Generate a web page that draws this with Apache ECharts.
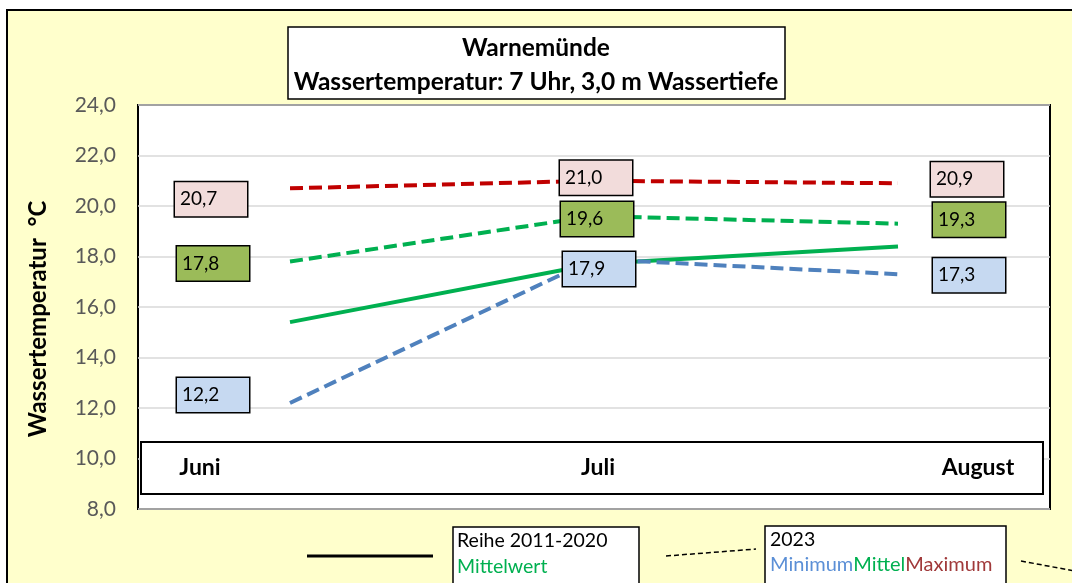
<!DOCTYPE html>
<html>
<head>
<meta charset="utf-8">
<script src="https://cdn.jsdelivr.net/npm/echarts@6/dist/echarts.min.js"></script>
<style>
  html, body { margin: 0; padding: 0; background: #fff; }
  #chart { width: 1072px; height: 583px; }
</style>
</head>
<body>
<div id="chart"></div>
<script>
// Wassertemperatur Warnemünde, 7 Uhr, 3,0 m Wassertiefe
const months = ['Juni', 'Juli', 'August'];
const yTicks = [8, 10, 12, 14, 16, 18, 20, 22, 24];

// Mittelwert der Reihe 2011-2020
const mean2011to2020 = [15.4, 17.7, 18.4];
// Sommer 2023
const min2023 = [12.2, 17.9, 17.3];
const mean2023 = [17.8, 19.6, 19.3];
const max2023 = [20.7, 21.0, 20.9];

const FONT = 'Lato, "Open Sans", sans-serif';
const fmt = v => v.toFixed(1).replace('.', ',');

// value boxes: left edge and vertical shift relative to each point
const boxShift = {
  max:  [[-115, 11], [-34, -3], [33, -4]],
  mean: [[-113, 2],  [-33, 3],  [35, -4]],
  min:  [[-113, -8], [-31, 10], [35, 1]]
};

function labelSeries(values, shifts, fill) {
  return {
    type: 'scatter',
    z: 10,
    symbolSize: 0,
    itemStyle: { color: fill, opacity: 1 },
    silent: true,
    data: values.map((v, i) => ({
      value: v,
      label: { offset: shifts[i] }
    })),
    label: {
      show: true,
      position: 'inside',
      align: 'left',
      verticalAlign: 'middle',
      formatter: p => fmt(p.value),
      color: '#000',
      opacity: 1,
      fontFamily: FONT,
      fontSize: 19,
      backgroundColor: fill,
      borderColor: '#000',
      borderWidth: 1.5,
      width: 67,
      height: 34,
      lineHeight: 34,
      padding: [0, 0, 0, 5]
    }
  };
}

function dashed(values, color) {
  return {
    type: 'line',
    data: values,
    symbol: 'none',
    silent: true,
    lineStyle: { color: color, width: 4, type: [13, 6] }
  };
}

const chart = echarts.init(document.getElementById('chart'), null, { renderer: 'canvas' });

chart.setOption({
  backgroundColor: '#ffffff',
  animation: false,
  title: {
    text: 'Warnemünde\nWassertemperatur: 7 Uhr, 3,0 m Wassertiefe',
    left: 'center',
    top: 31,
    padding: 0,
    textStyle: { fontFamily: FONT, fontWeight: 'bold', fontSize: 24.5, lineHeight: 34, color: '#000' }
  },
  grid: {
    left: 138, top: 105, width: 912, height: 404,
    show: true, backgroundColor: '#ffffff', borderColor: '#000', borderWidth: 2
  },
  xAxis: {
    type: 'category',
    data: months,
    boundaryGap: true,
    axisLine: { show: false },
    axisTick: { show: false },
    axisLabel: { show: false },
    splitLine: { show: false }
  },
  yAxis: {
    type: 'value',
    min: yTicks[0],
    max: yTicks[yTicks.length - 1],
    interval: 2,
    name: 'Wassertemperatur  °C',
    nameLocation: 'middle',
    nameRotate: 90,
    nameGap: 88,
    nameTextStyle: { fontFamily: FONT, fontWeight: 'bold', fontSize: 24, color: '#000', padding: [0, 24, 0, 0] },
    axisLine: { show: false },
    axisTick: { show: false },
    axisLabel: { formatter: v => fmt(v), color: '#595959', fontFamily: FONT, fontSize: 21, margin: 22 },
    splitLine: { lineStyle: { color: '#D9D9D9', width: 1.5 } }
  },
  graphic: [
    // outer frame of the chart
    { type: 'rect', z: -10, shape: { x: 7, y: 10, width: 1100, height: 620 },
      style: { fill: '#FFFFCC', stroke: '#000', lineWidth: 2 } },
    // title box
    { type: 'rect', z: -5, shape: { x: 288, y: 27, width: 497, height: 72 },
      style: { fill: '#fff', stroke: '#000', lineWidth: 1.5 } },
    // month strip
    { type: 'rect', z: 1, shape: { x: 141, y: 442, width: 902, height: 52 },
      style: { fill: '#fff', stroke: '#000', lineWidth: 2 } },
    { type: 'text', z: 1, style: { text: months[0], x: 200, y: 468, align: 'center', verticalAlign: 'middle',
      font: 'bold 23px ' + FONT, fill: '#000' } },
    { type: 'text', z: 1, style: { text: months[1], x: 598, y: 468, align: 'center', verticalAlign: 'middle',
      font: 'bold 23px ' + FONT, fill: '#000' } },
    { type: 'text', z: 1, style: { text: months[2], x: 978, y: 468, align: 'center', verticalAlign: 'middle',
      font: 'bold 23px ' + FONT, fill: '#000' } },
    // legend: Reihe 2011-2020
    { type: 'line', shape: { x1: 307, y1: 556, x2: 433, y2: 556 }, style: { stroke: '#000', lineWidth: 3 } },
    { type: 'rect', shape: { x: 453, y: 527, width: 186, height: 80 },
      style: { fill: '#fff', stroke: '#000', lineWidth: 1.5 } },
    { type: 'text', style: { text: 'Reihe 2011-2020', x: 457, y: 541, verticalAlign: 'middle',
      font: '19.5px ' + FONT, fill: '#000' } },
    { type: 'text', style: { text: 'Mittelwert', x: 457, y: 567, verticalAlign: 'middle',
      font: '19.5px ' + FONT, fill: '#00B050' } },
    // legend: 2023
    { type: 'line', shape: { x1: 666, y1: 556, x2: 756, y2: 549 },
      style: { stroke: '#000', lineWidth: 1.5, lineDash: [5, 3] } },
    { type: 'rect', shape: { x: 765, y: 526, width: 241, height: 80 },
      style: { fill: '#fff', stroke: '#000', lineWidth: 1.5 } },
    { type: 'text', style: { text: '2023', x: 770, y: 540, verticalAlign: 'middle',
      font: '19.5px ' + FONT, fill: '#000' } },
    { type: 'text', style: {
      text: '{a|Minimum}{b|Mittel}{c|Maximum}', x: 770, y: 565, verticalAlign: 'middle',
      font: '20px ' + FONT,
      rich: {
        a: { fill: '#5B8FD6', font: '20px ' + FONT },
        b: { fill: '#00B050', font: '20px ' + FONT },
        c: { fill: '#A0393A', font: '20px ' + FONT }
      } } },
    { type: 'line', shape: { x1: 1021, y1: 561, x2: 1080, y2: 572 },
      style: { stroke: '#000', lineWidth: 1.5, lineDash: [5, 3] } }
  ],
  series: [
    {
      type: 'line',
      data: mean2011to2020,
      symbol: 'none',
      silent: true,
      lineStyle: { color: '#00B050', width: 4 }
    },
    dashed(min2023, '#4F81BD'),
    dashed(mean2023, '#00B050'),
    dashed(max2023, '#C00000'),
    labelSeries(max2023, boxShift.max, '#F2DCDB'),
    labelSeries(mean2023, boxShift.mean, '#9BBB59'),
    labelSeries(min2023, boxShift.min, '#C6D9F1')
  ]
});
</script>
</body>
</html>
